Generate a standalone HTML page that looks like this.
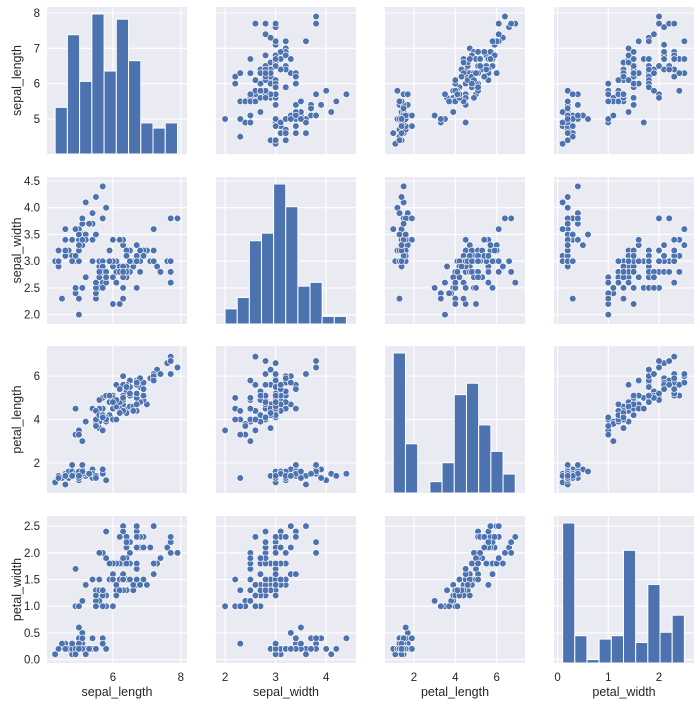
<!DOCTYPE html>
<html><head><meta charset="utf-8"><style>
body{margin:0;background:#fff}
svg{display:block;font-family:"Liberation Sans","DejaVu Sans",sans-serif}
</style></head><body>
<svg id="chart" width="700" height="704" viewBox="0 0 700 704" xmlns="http://www.w3.org/2000/svg"></svg>
<script>
const varNames = ["sepal_length","sepal_width","petal_length","petal_width"];
const sepalLength = [5.1,4.9,4.7,4.6,5.0,5.4,4.6,5.0,4.4,4.9,5.4,4.8,4.8,4.3,5.8,5.7,5.4,5.1,5.7,5.1,5.4,5.1,4.6,5.1,4.8,5.0,5.0,5.2,5.2,4.7,4.8,5.4,5.2,5.5,4.9,5.0,5.5,4.9,4.4,5.1,5.0,4.5,4.4,5.0,5.1,4.8,5.1,4.6,5.3,5.0,
7.0,6.4,6.9,5.5,6.5,5.7,6.3,4.9,6.6,5.2,5.0,5.9,6.0,6.1,5.6,6.7,5.6,5.8,6.2,5.6,5.9,6.1,6.3,6.1,6.4,6.6,6.8,6.7,6.0,5.7,5.5,5.5,5.8,6.0,5.4,6.0,6.7,6.3,5.6,5.5,5.5,6.1,5.8,5.0,5.6,5.7,5.7,6.2,5.1,5.7,
6.3,5.8,7.1,6.3,6.5,7.6,4.9,7.3,6.7,7.2,6.5,6.4,6.8,5.7,5.8,6.4,6.5,7.7,7.7,6.0,6.9,5.6,7.7,6.3,6.7,7.2,6.2,6.1,6.4,7.2,7.4,7.9,6.4,6.3,6.1,7.7,6.3,6.4,6.0,6.9,6.7,6.9,5.8,6.8,6.7,6.7,6.3,6.5,6.2,5.9];
const sepalWidth = [3.5,3.0,3.2,3.1,3.6,3.9,3.4,3.4,2.9,3.1,3.7,3.4,3.0,3.0,4.0,4.4,3.9,3.5,3.8,3.8,3.4,3.7,3.6,3.3,3.4,3.0,3.4,3.5,3.4,3.2,3.1,3.4,4.1,4.2,3.1,3.2,3.5,3.6,3.0,3.4,3.5,2.3,3.2,3.5,3.8,3.0,3.8,3.2,3.7,3.3,
3.2,3.2,3.1,2.3,2.8,2.8,3.3,2.4,2.9,2.7,2.0,3.0,2.2,2.9,2.9,3.1,3.0,2.7,2.2,2.5,3.2,2.8,2.5,2.8,2.9,3.0,2.8,3.0,2.9,2.6,2.4,2.4,2.7,2.7,3.0,3.4,3.1,2.3,3.0,2.5,2.6,3.0,2.6,2.3,2.7,3.0,2.9,2.9,2.5,2.8,
3.3,2.7,3.0,2.9,3.0,3.0,2.5,2.9,2.5,3.6,3.2,2.7,3.0,2.5,2.8,3.2,3.0,3.8,2.6,2.2,3.2,2.8,2.8,2.7,3.3,3.2,2.8,3.0,2.8,3.0,2.8,3.8,2.8,2.8,2.6,3.0,3.4,3.1,3.0,3.1,3.1,3.1,2.7,3.2,3.3,3.0,2.5,3.0,3.4,3.0];
const petalLength = [1.4,1.4,1.3,1.5,1.4,1.7,1.4,1.5,1.4,1.5,1.5,1.6,1.4,1.1,1.2,1.5,1.3,1.4,1.7,1.5,1.7,1.5,1.0,1.7,1.9,1.6,1.6,1.5,1.4,1.6,1.6,1.5,1.5,1.4,1.5,1.2,1.3,1.4,1.3,1.5,1.3,1.3,1.3,1.6,1.9,1.4,1.6,1.4,1.5,1.4,
4.7,4.5,4.9,4.0,4.6,4.5,4.7,3.3,4.6,3.9,3.5,4.2,4.0,4.7,3.6,4.4,4.5,4.1,4.5,3.9,4.8,4.0,4.9,4.7,4.3,4.4,4.8,5.0,4.5,3.5,3.8,3.7,3.9,5.1,4.5,4.5,4.7,4.4,4.1,4.0,4.4,4.6,4.0,3.3,4.2,4.2,4.2,4.3,3.0,4.1,
6.0,5.1,5.9,5.6,5.8,6.6,4.5,6.3,5.8,6.1,5.1,5.3,5.5,5.0,5.1,5.3,5.5,6.7,6.9,5.0,5.7,4.9,6.7,4.9,5.7,6.0,4.8,4.9,5.6,5.8,6.1,6.4,5.6,5.1,5.6,6.1,5.6,5.5,4.8,5.4,5.6,5.1,5.1,5.9,5.7,5.2,5.0,5.2,5.4,5.1];
const petalWidth = [0.2,0.2,0.2,0.2,0.2,0.4,0.3,0.2,0.2,0.1,0.2,0.2,0.1,0.1,0.2,0.4,0.4,0.3,0.3,0.3,0.2,0.4,0.2,0.5,0.2,0.2,0.4,0.2,0.2,0.2,0.2,0.4,0.1,0.2,0.2,0.2,0.2,0.1,0.2,0.2,0.3,0.3,0.2,0.6,0.4,0.3,0.2,0.2,0.2,0.2,
1.4,1.5,1.5,1.3,1.5,1.3,1.6,1.0,1.3,1.4,1.0,1.5,1.0,1.4,1.3,1.4,1.5,1.0,1.5,1.1,1.8,1.3,1.5,1.2,1.3,1.4,1.4,1.7,1.5,1.0,1.1,1.0,1.2,1.6,1.5,1.6,1.5,1.3,1.3,1.3,1.2,1.4,1.2,1.0,1.3,1.2,1.3,1.3,1.1,1.3,
2.5,1.9,2.1,1.8,2.2,2.1,1.7,1.8,1.8,2.5,2.0,1.9,2.1,2.0,2.4,2.3,1.8,2.2,2.3,1.5,2.3,2.0,2.0,1.8,2.1,1.8,1.8,1.8,2.1,1.6,1.9,2.0,2.2,1.5,1.4,2.3,2.4,1.8,1.8,2.1,2.4,2.3,1.9,2.3,2.5,2.3,1.9,2.0,2.3,1.8];
const xTicks = [[6,8],[2,3,4],[2,4,6],[0,1,2]];
const yTicks = [[5,6,7,8],[2.0,2.5,3.0,3.5,4.0,4.5],[2,4,6],[0.0,0.5,1.0,1.5,2.0,2.5]];
const yTickLabels = [["5","6","7","8"],["2.0","2.5","3.0","3.5","4.0","4.5"],["2","4","6"],["0.0","0.5","1.0","1.5","2.0","2.5"]];
const xDomains = [[4.06,8.18],[1.82,4.59],[0.6,7.37],[-0.07,2.69]];
const yDomains = [[4.01,8.17],[1.825,4.575],[0.61,7.39],[-0.064,2.69]];
const numBins = 10;

const data = [sepalLength, sepalWidth, petalLength, petalWidth];
const NS = "http://www.w3.org/2000/svg";
const svg = document.getElementById("chart");
const colL = [47,216,385,554], cellW = 140;
const rowT = [7,177,346,516], cellH = 147;
const BLUE = "#4c72b0";
function mk(tag, attrs, parent){const e=document.createElementNS(NS,tag);for(const k in attrs)e.setAttribute(k,attrs[k]);(parent||svg).appendChild(e);return e;}
function xs(c,v){const d=xDomains[c];return colL[c]+(v-d[0])/(d[1]-d[0])*cellW;}
function ys(r,v){const d=yDomains[r];return rowT[r]+cellH-(v-d[0])/(d[1]-d[0])*cellH;}

for(let r=0;r<4;r++){
  for(let c=0;c<4;c++){
    const g=mk("g",{});
    
    
    const bg=mk("rect",{x:colL[c],y:rowT[r],width:cellW,height:cellH,fill:"#eaeaf2"},g);
    
    
    xTicks[c].forEach(t=>{const X=xs(c,t);const l=mk("line",{x1:X,x2:X,y1:rowT[r],y2:rowT[r]+cellH,stroke:"#fff","stroke-width":1.1},g);
      
      });
    yTicks[r].forEach(t=>{const Y=ys(r,t);const l=mk("line",{x1:colL[c],x2:colL[c]+cellW,y1:Y,y2:Y,stroke:"#fff","stroke-width":1.1},g);
      
      });
    if(r===c){
      const vals=data[c];const mn=Math.min(...vals),mx=Math.max(...vals);const w=(mx-mn)/numBins;
      const counts=new Array(numBins).fill(0);
      vals.forEach(v=>{let i=Math.floor((v-mn)/w+1e-9);if(i>=numBins)i=numBins-1;counts[i]++;});
      const cmax=Math.max(...counts)*1.05;
      counts.forEach((n,i)=>{
        const x0=xs(c,mn+i*w),x1=xs(c,mn+(i+1)*w);const h=n/cmax*cellH;
        const b=mk("rect",{x:x0,y:rowT[r]+cellH-h,width:x1-x0,height:h,fill:BLUE,stroke:"#fff","stroke-width":1},g);
        
        
      });
    } else {
      const xv=data[c],yv=data[r];
      for(let i=0;i<xv.length;i++){
        const p=mk("circle",{cx:xs(c,xv[i]),cy:ys(r,yv[i]),r:3.3,fill:BLUE,stroke:"#fff","stroke-width":0.6},g);
        
        
      }
    }
  }
}
for(let c=0;c<4;c++){
  xTicks[c].forEach(t=>{const e=mk("text",{x:xs(c,t),y:681,"text-anchor":"middle","font-size":11.5,fill:"#262626"});e.textContent=String(t);
    
    });
  const lab=mk("text",{x:colL[c]+cellW/2,y:696,"text-anchor":"middle","font-size":12.5,fill:"#262626"});
  lab.textContent=varNames[c];
  
  
}
for(let r=0;r<4;r++){
  yTicks[r].forEach((t,i)=>{const e=mk("text",{x:40,y:ys(r,t)+4,"text-anchor":"end","font-size":11.5,fill:"#262626"});e.textContent=yTickLabels[r][i];
    
    });
  const cy=rowT[r]+cellH/2;
  const lab=mk("text",{x:0,y:0,"text-anchor":"middle","font-size":12.5,fill:"#262626",transform:"translate(21,"+cy+") rotate(-90)"});
  lab.textContent=varNames[r];
  
  
}
</script>
</body></html>
